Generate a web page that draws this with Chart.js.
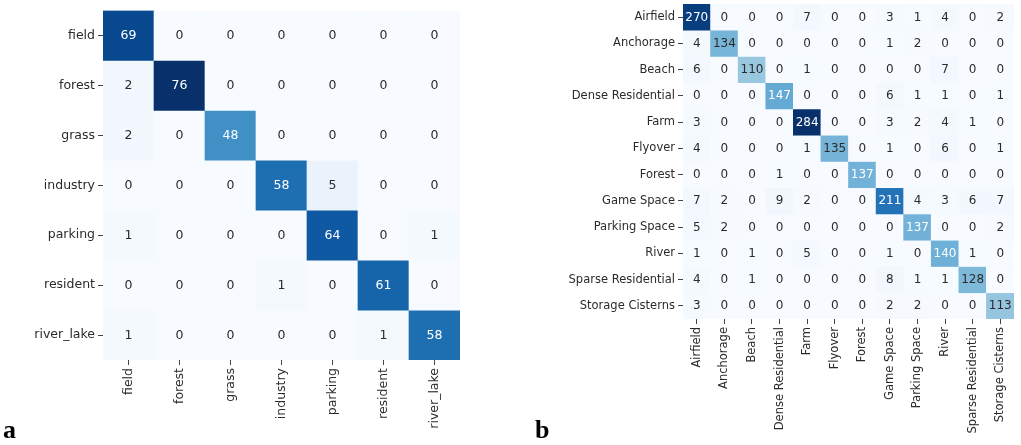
<!DOCTYPE html>
<html>
<head>
<meta charset="utf-8">
<script src="https://cdn.jsdelivr.net/npm/chart.js@4.4.1/dist/chart.umd.min.js"></script>
<style>
  body { margin: 0; background: #fff; width: 1021px; height: 445px; overflow: hidden; position: relative; }
  canvas { position: absolute; }
  #cmA { left: 0; top: 0; }
  #cmB { left: 540px; top: -6px; }
  .tag { position: absolute; font: bold 26px "Liberation Serif", serif; color: #000; line-height: 1; }
</style>
</head>
<body>
<canvas id="cmA" width="470" height="445" style="width:470px;height:445px"></canvas>
<canvas id="cmB" width="481" height="451" style="width:481px;height:451px"></canvas>
<div class="tag" style="left:3px;top:417px">a</div>
<div class="tag" style="left:535px;top:417px">b</div>
<script>
// land cover classes, 7-class set
const classesA = ['field', 'forest', 'grass', 'industry', 'parking', 'resident', 'river_lake'];
const countsA = [
  [69, 0, 0, 0, 0, 0, 0],
  [2, 76, 0, 0, 0, 0, 0],
  [2, 0, 48, 0, 0, 0, 0],
  [0, 0, 0, 58, 5, 0, 0],
  [1, 0, 0, 0, 64, 0, 1],
  [0, 0, 0, 1, 0, 61, 0],
  [1, 0, 0, 0, 0, 1, 58]
];

// scene classes, 12-class set
const classesB = ['Airfield', 'Anchorage', 'Beach', 'Dense Residential', 'Farm', 'Flyover',
  'Forest', 'Game Space', 'Parking Space', 'River', 'Sparse Residential', 'Storage Cisterns'];
const countsB = [
  [270, 0, 0, 0, 7, 0, 0, 3, 1, 4, 0, 2],
  [4, 134, 0, 0, 0, 0, 0, 1, 2, 0, 0, 0],
  [6, 0, 110, 0, 1, 0, 0, 0, 0, 7, 0, 0],
  [0, 0, 0, 147, 0, 0, 0, 6, 1, 1, 0, 1],
  [3, 0, 0, 0, 284, 0, 0, 3, 2, 4, 1, 0],
  [4, 0, 0, 0, 1, 135, 0, 1, 0, 6, 0, 1],
  [0, 0, 0, 1, 0, 0, 137, 0, 0, 0, 0, 0],
  [7, 2, 0, 9, 2, 0, 0, 211, 4, 3, 6, 7],
  [5, 2, 0, 0, 0, 0, 0, 0, 137, 0, 0, 2],
  [1, 0, 1, 0, 5, 0, 0, 1, 0, 140, 1, 0],
  [4, 0, 1, 0, 0, 0, 0, 8, 1, 1, 128, 0],
  [3, 0, 0, 0, 0, 0, 0, 2, 2, 0, 0, 113]
];

// matplotlib "Blues"
const BLUES = ['#f7fbff', '#deebf7', '#c6dbef', '#9ecae1', '#6baed6', '#4292c6', '#2171b5', '#08519c', '#08306b']
  .map(h => [1, 3, 5].map(i => parseInt(h.substr(i, 2), 16)));

function blues(t) {
  t = Math.max(0, Math.min(1, t));
  const p = t * (BLUES.length - 1);
  const i = Math.min(Math.floor(p), BLUES.length - 2);
  const f = p - i;
  return BLUES[i].map((c, k) => Math.round(c + (BLUES[i + 1][k] - c) * f));
}

function luminance(rgb) {
  const lin = rgb.map(c => {
    c /= 255;
    return c <= 0.03928 ? c / 12.92 : Math.pow((c + 0.055) / 1.055, 2.4);
  });
  return 0.2126 * lin[0] + 0.7152 * lin[1] + 0.0722 * lin[2];
}

// writes the count in the middle of each cell
const cellText = {
  id: 'cellText',
  afterDatasetsDraw(chart, args, opts) {
    const ctx = chart.ctx;
    ctx.save();
    ctx.font = opts.size + 'px "DejaVu Sans", sans-serif';
    ctx.textAlign = 'center';
    ctx.textBaseline = 'middle';
    chart.data.datasets.forEach((ds, di) => {
      chart.getDatasetMeta(di).data.forEach((bar, j) => {
        const raw = ds.data[j];
        const rgb = blues(raw.v / opts.vmax);
        ctx.fillStyle = luminance(rgb) > 0.408 ? '#2b2b2b' : '#ffffff';
        const c = bar.getCenterPoint();
        ctx.fillText(String(raw.v), c.x, c.y + 0.5);
      });
    });
    ctx.restore();
  }
};

function drawMatrix(id, classes, counts, cfg) {
  const n = classes.length;
  const vmax = Math.max(...counts.flat());
  const datasets = counts.map((row, r) => ({
    data: row.map((v, j) => ({ x: classes[j], y: [r, r + 1], v: v })),
    backgroundColor: c => 'rgb(' + blues(c.raw.v / vmax).join(',') + ')',
    borderWidth: 0,
    barPercentage: 1,
    categoryPercentage: 1,
    grouped: false
  }));

  const tickFont = { family: '"DejaVu Sans", sans-serif', size: cfg.labelSize };

  return new Chart(document.getElementById(id), {
    type: 'bar',
    data: { labels: classes, datasets: datasets },
    plugins: [cellText],
    options: {
      responsive: false,
      devicePixelRatio: 1,
      animation: false,
      layout: { padding: cfg.padding },
      plugins: {
        legend: { display: false },
        tooltip: { enabled: false },
        cellText: { size: cfg.cellSize, vmax: vmax }
      },
      scales: {
        x: {
          type: 'category',
          offset: true,
          border: { display: false },
          grid: { offset: false, drawOnChartArea: false, tickLength: 5, tickColor: '#444', lineWidth: 1 },
          ticks: { autoSkip: false, minRotation: 90, maxRotation: 90, padding: 3, color: '#2b2b2b', font: tickFont },
          afterFit: axis => { axis.height = cfg.xHeight; }
        },
        y: {
          type: 'linear',
          min: 0,
          max: n,
          reverse: true,
          border: { display: false },
          grid: { drawOnChartArea: false, tickLength: 5, tickColor: '#444', lineWidth: 1 },
          ticks: {
            autoSkip: false,
            padding: 3,
            color: '#2b2b2b',
            font: tickFont,
            callback: value => classes[Math.floor(value)]
          },
          afterBuildTicks: axis => { axis.ticks = classes.map((_, i) => ({ value: i + 0.5 })); },
          afterFit: axis => { axis.width = cfg.yWidth; }
        }
      }
    }
  });
}

drawMatrix('cmA', classesA, countsA, {
  padding: { left: 0, top: 6, right: 10, bottom: 0 },
  yWidth: 103, xHeight: 85, labelSize: 12.5, cellSize: 12.5
});

drawMatrix('cmB', classesB, countsB, {
  padding: { left: 0, top: 0.5, right: 7, bottom: 0 },
  yWidth: 143, xHeight: 126, labelSize: 11.5, cellSize: 12
});
</script>
</body>
</html>
